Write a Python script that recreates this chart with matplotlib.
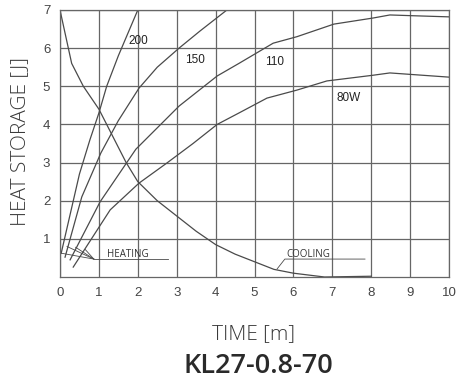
import numpy as np
import matplotlib
matplotlib.use("Agg")
import matplotlib.pyplot as plt

# heating curves (time in minutes, heat storage)
heat_200_x = [0.03, 0.5, 0.77, 1.0, 1.2, 1.5, 2.0]
heat_200_y = [0.62, 2.7, 3.6, 4.3, 5.0, 5.8, 7.0]
heat_150_x = [0.13, 0.56, 1.05, 1.5, 2.03, 2.5, 3.06, 3.6, 4.29]
heat_150_y = [0.52, 2.1, 3.25, 4.1, 4.95, 5.5, 6.0, 6.45, 7.0]
heat_110_x = [0.26, 1.03, 1.95, 3.06, 4.04, 4.6, 5.48, 6.09, 7.04, 8.05, 8.48, 9.07, 10.0]
heat_110_y = [0.45, 1.97, 3.35, 4.48, 5.27, 5.6, 6.13, 6.3, 6.63, 6.79, 6.87, 6.85, 6.82]
heat_80_x = [0.34, 1.29, 2.03, 2.75, 3.42, 4.04, 4.6, 5.32, 6.09, 6.86, 8.05, 8.48, 10.0]
heat_80_y = [0.26, 1.76, 2.46, 2.99, 3.5, 4.0, 4.3, 4.69, 4.9, 5.14, 5.29, 5.35, 5.24]

# cooling curve
cool_x = [0, 0.3, 0.6, 1.0, 1.4, 1.7, 2.0, 2.5, 3.0, 3.5, 4.0, 4.5, 5.0, 5.5, 6.0, 6.8, 8.0]
cool_y = [7, 5.6, 5.0, 4.4, 3.6, 3.0, 2.5, 2.0, 1.6, 1.2, 0.85, 0.6, 0.4, 0.2, 0.1, 0.0, 0.02]

curve_labels = ["200", "150", "110", "80W"]
label_x = [1.77, 3.21, 5.27, 7.12]
label_y = [6.19, 5.69, 5.64, 4.69]

# callout anchors
heating_from_x = [0.0, 0.18, 0.4, 0.65]
heating_from_y = [0.63, 0.8, 0.78, 0.72]
heating_corner = (0.87, 0.47)
heating_end_x = 2.78
cooling_from = (5.58, 0.21)
cooling_corner = (5.78, 0.47)
cooling_end_x = 7.84

x_ticks = list(range(0, 11))
y_ticks = list(range(1, 8))

line_col = "#4a4a4a"
grid_col = "#666666"
text_col = "#3a3a3a"

fig = plt.figure(figsize=(4.67, 3.79), dpi=100)
ax = fig.add_axes([60 / 467, 1 - 277 / 379, 389 / 467, 267 / 379])

for xs, ys in [(heat_200_x, heat_200_y), (heat_150_x, heat_150_y),
               (heat_110_x, heat_110_y), (heat_80_x, heat_80_y),
               (cool_x, cool_y)]:
    ax.plot(xs, ys, color=line_col, lw=0.9)

for lab, lx, ly in zip(curve_labels, label_x, label_y):
    ax.text(lx, ly, lab, fontsize=8.5, color="#222222", family="Liberation Sans",
            ha="left", va="center")

# heating callout
for fx, fy in zip(heating_from_x, heating_from_y):
    ax.plot([fx, heating_corner[0]], [fy, heating_corner[1]], color=line_col, lw=0.6)
ax.plot([heating_corner[0], heating_end_x], [heating_corner[1]] * 2, color=line_col, lw=0.6)
ax.text(1.21, 0.6, "HEATING", fontsize=7, color="#333333", family="Open Sans",
        ha="left", va="center")

# cooling callout
ax.plot([cooling_from[0], cooling_corner[0], cooling_end_x],
        [cooling_from[1], cooling_corner[1], cooling_corner[1]], color=line_col, lw=0.6)
ax.text(5.83, 0.6, "COOLING", fontsize=7, color="#333333", family="Open Sans",
        ha="left", va="center")

ax.set_xlim(0, 10)
ax.set_ylim(0, 7)
ax.set_xticks(x_ticks)
ax.set_yticks(y_ticks)
ax.grid(True, color=grid_col, lw=0.9)
ax.set_axisbelow(True)
for sp in ax.spines.values():
    sp.set_color(grid_col)
    sp.set_linewidth(0.9)
ax.tick_params(length=0, labelsize=9.5, labelcolor="#444444", pad=7)
for t in ax.get_xticklabels() + ax.get_yticklabels():
    t.set_family("Liberation Sans")

fig.text(20 / 467, 1 - 142 / 379, "HEAT STORAGE [J]", rotation=90, fontsize=15,
         color=text_col, family="Open Sans", fontweight="light", ha="center", va="center")
fig.text(254 / 467, 1 - 334 / 379, "TIME [m]", fontsize=15,
         color=text_col, family="Open Sans", fontweight="light", ha="center", va="center")
fig.text(258 / 467, 1 - 366 / 379, "KL27-0.8-70", fontsize=19.5,
         color="#2a2a2a", family="Open Sans", fontweight="semibold", ha="center", va="center")

fig.savefig("out.png", dpi=100)
